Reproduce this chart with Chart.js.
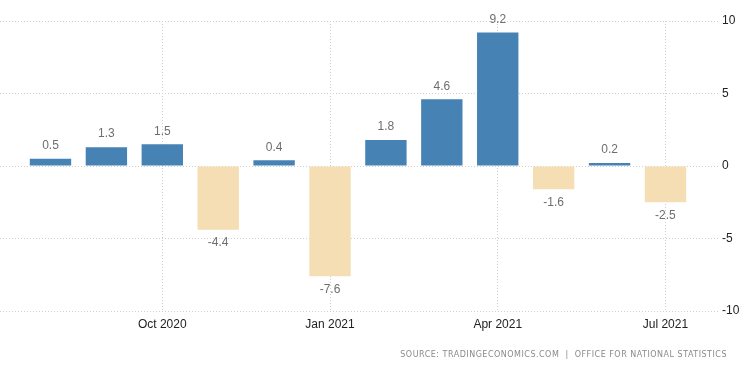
<!DOCTYPE html>
<html>
<head>
<meta charset="utf-8">
<script src="https://cdn.jsdelivr.net/npm/chart.js@4/dist/chart.umd.min.js"></script>
<style>
  html, body { margin: 0; padding: 0; background: #fff; }
  #wrap { position: relative; width: 750px; height: 373px; }
  #source {
    position: absolute; right: 23px; top: 350px;
    font: 8px "DejaVu Sans", sans-serif; letter-spacing: 0.5px;
    color: #8a8a8a; white-space: pre;
  }
</style>
</head>
<body>
<div id="wrap">
  <canvas id="chart" width="750" height="373"></canvas>
  <div id="source">SOURCE: TRADINGECONOMICS.COM  |  OFFICE FOR NATIONAL STATISTICS</div>
</div>
<script>
// monthly change, Aug 2020 .. Jul 2021
const months = ["Aug 2020", "Sep 2020", "Oct 2020", "Nov 2020", "Dec 2020", "Jan 2021",
  "Feb 2021", "Mar 2021", "Apr 2021", "May 2021", "Jun 2021", "Jul 2021"];
const values = [0.5, 1.3, 1.5, -4.4, 0.4, -7.6, 1.8, 4.6, 9.2, -1.6, 0.2, -2.5];
const xTickMonths = ["Oct 2020", "Jan 2021", "Apr 2021", "Jul 2021"];
const yTicks = [-10, -5, 0, 5, 10];

const blue = "#4682b4";
const beige = "#f5deb3";

// draw the value labels above / below the bars
const valueLabels = {
  id: "valueLabels",
  afterDatasetsDraw(chart) {
    const ctx = chart.ctx;
    const meta = chart.getDatasetMeta(0);
    ctx.save();
    ctx.font = "12px 'Liberation Sans', Arial, sans-serif";
    ctx.fillStyle = "#6e6e6e";
    ctx.textAlign = "center";
    ctx.textBaseline = "middle";
    meta.data.forEach((bar, i) => {
      let v = values[i];
      let y = v >= 0 ? bar.y - 13 : bar.y + 13;
      ctx.fillText(v.toFixed(1), bar.x, y);
    });
    ctx.restore();
  }
};

new Chart(document.getElementById("chart"), {
  type: "bar",
  data: {
    datasets: [{
      data: values.map((v, i) => ({ x: i, y: v })),
      backgroundColor: values.map((v) => (v >= 0 ? blue : beige)),
      borderWidth: 0,
      barPercentage: 0.74,
      categoryPercentage: 1
    }]
  },
  options: {
    responsive: false,
    animation: false,
    layout: { padding: { top: 21, left: 0, right: 0, bottom: 0 } },
    plugins: { legend: { display: false }, tooltip: { enabled: false } },
    scales: {
      x: {
        type: "linear",
        min: -0.903,
        max: 11.94,
        offset: false,
        border: { display: false, dash: [1, 2] },
        grid: { color: "#cfcfcf", drawTicks: false, offset: false },
        afterBuildTicks: (scale) => {
          scale.ticks = xTickMonths.map((m) => ({ value: months.indexOf(m) }));
        },
        afterFit: (scale) => { scale.height = 62; },
        ticks: {
          padding: 6,
          maxRotation: 0,
          color: "#222",
          font: { size: 12, family: "'Liberation Sans', Arial, sans-serif" },
          callback: (v) => months[v]
        }
      },
      y: {
        position: "right",
        min: -10,
        max: 10,
        border: { display: false, dash: [1, 2] },
        grid: { color: "#cfcfcf", drawTicks: false },
        afterBuildTicks: (scale) => {
          scale.ticks = yTicks.map((t) => ({ value: t }));
        },
        afterFit: (scale) => { scale.width = 32; },
        ticks: {
          padding: 4,
          color: "#222",
          font: { size: 12, family: "'Liberation Sans', Arial, sans-serif" }
        }
      }
    }
  },
  plugins: [valueLabels]
});
</script>
</body>
</html>
